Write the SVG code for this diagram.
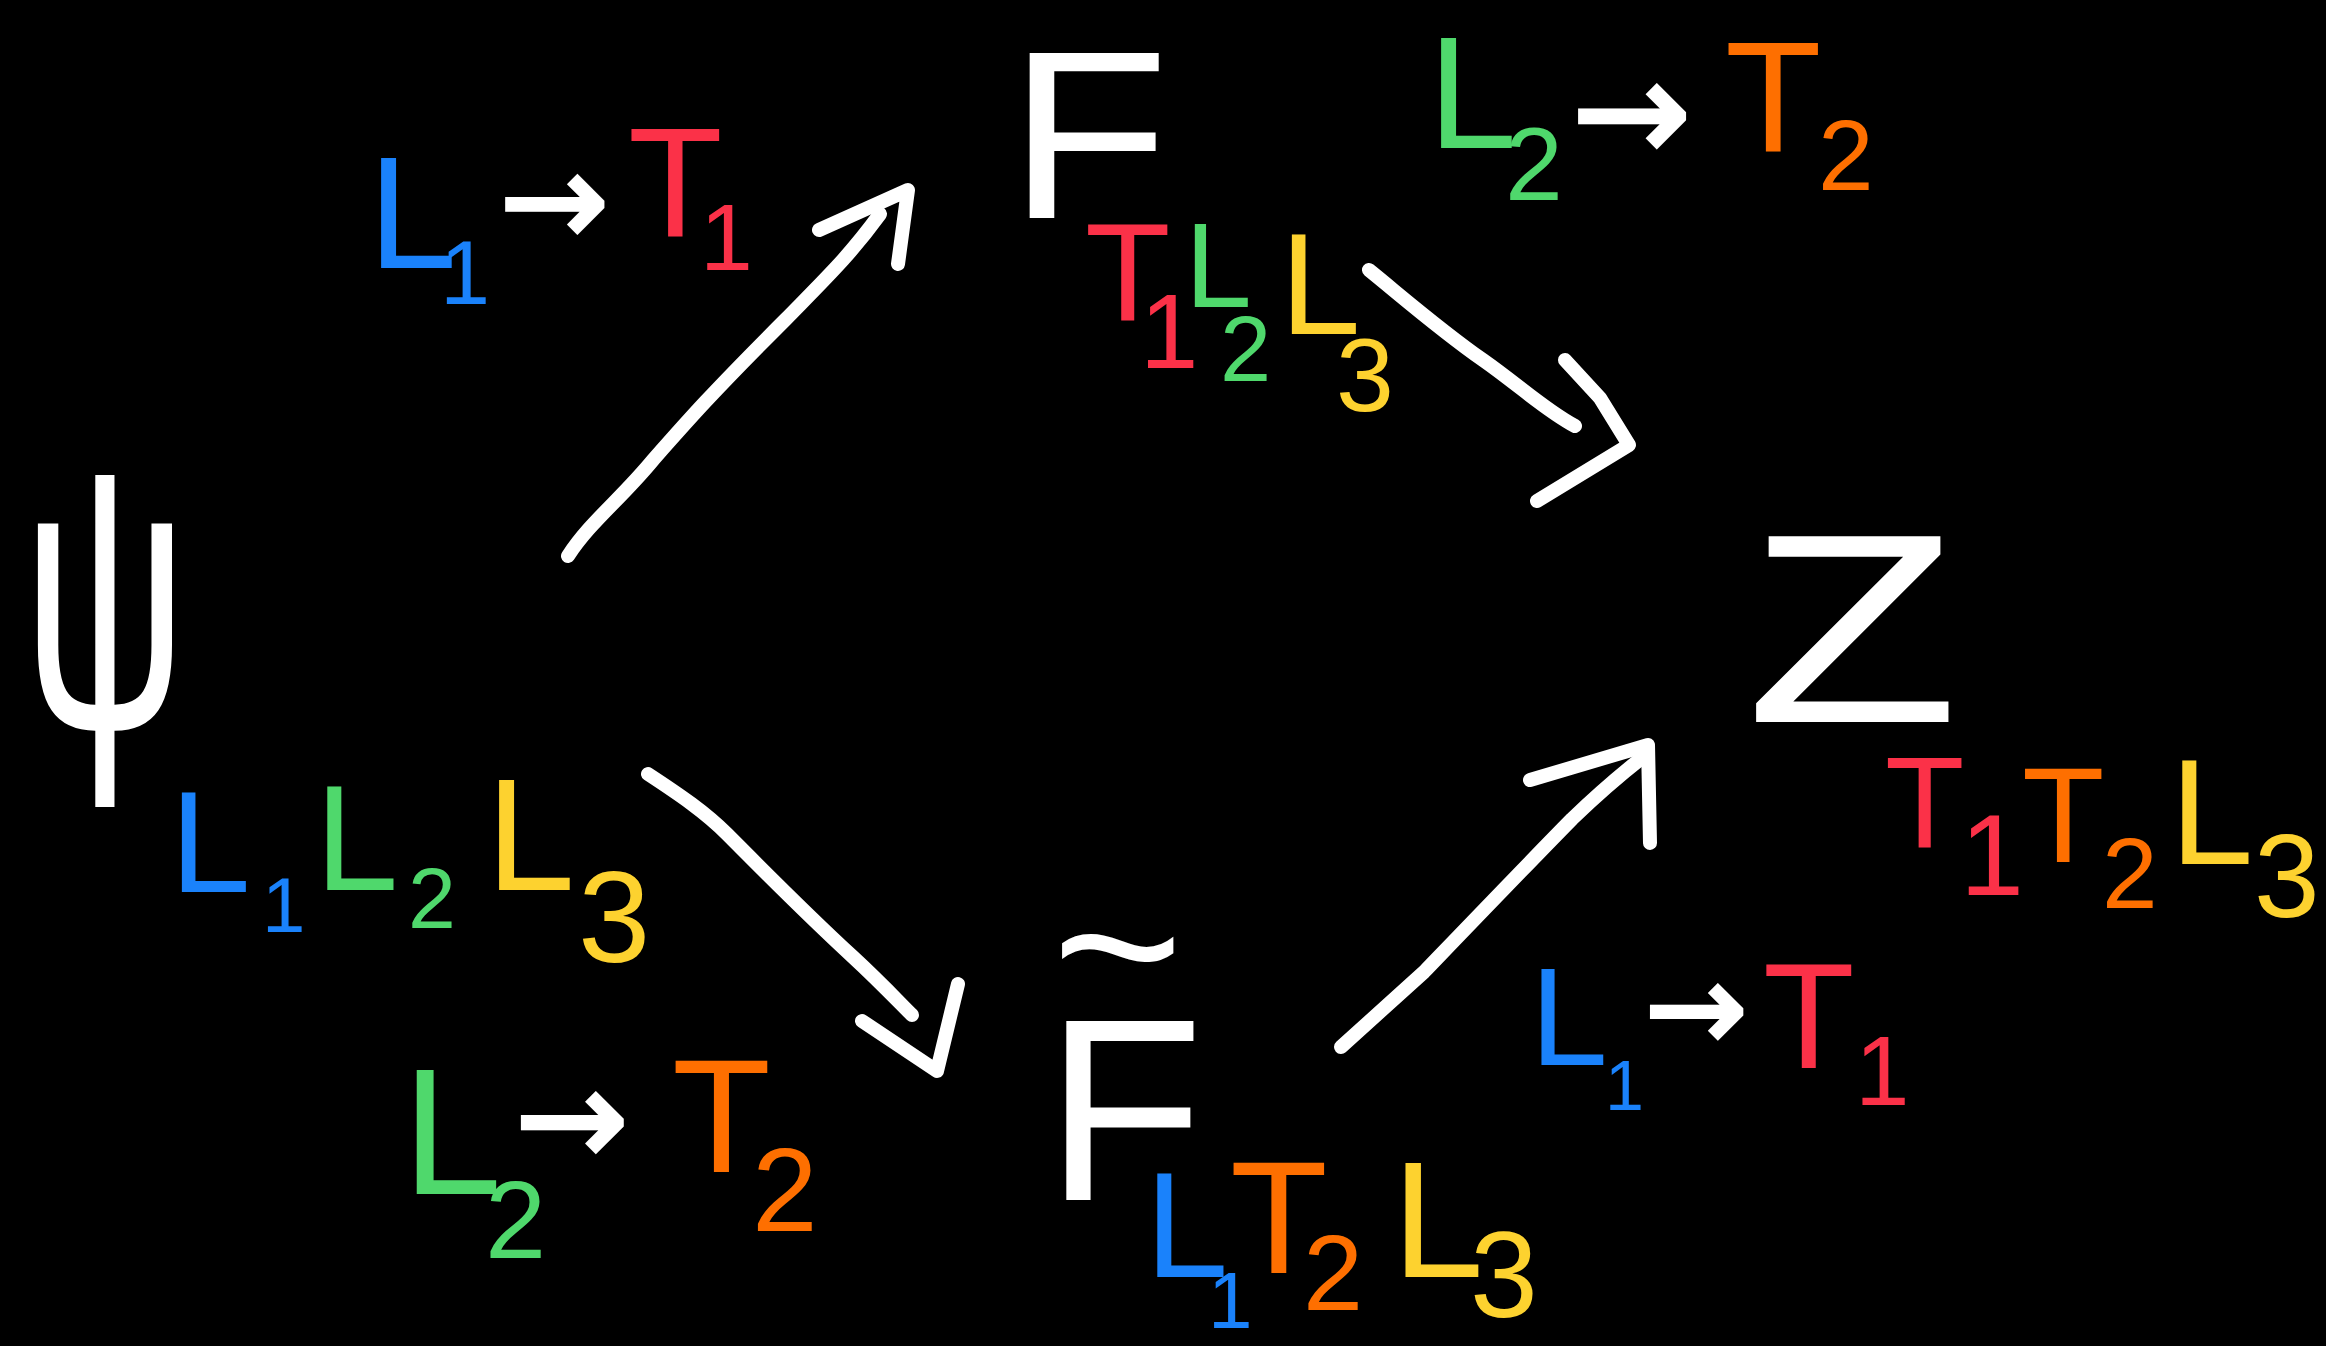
<svg xmlns="http://www.w3.org/2000/svg" width="2326" height="1346" viewBox="0 0 2326 1346">
<style>
text{font-family:"Liberation Sans","DejaVu Sans",sans-serif;}
.w{fill:#ffffff}
.b{fill:#1a82fb}
.g{fill:#4fd86c}
.y{fill:#fdd22f}
.r{fill:#fb3148}
.o{fill:#fe6f00}
.arr{font-family:"DejaVu Sans",sans-serif;fill:#fff;stroke:#fff;stroke-width:4}
.c{fill:none;stroke:#fff;stroke-width:14;stroke-linecap:round;stroke-linejoin:round}
</style>
<rect width="2326" height="1346" fill="#000"/>

<g id="psi">
<text class="w" x="0" y="0" font-size="385" text-anchor="middle" transform="translate(105,727) scale(0.6,1)">ψ</text>
<text font-size="145"><tspan class="b" x="170" y="892">L</tspan><tspan class="b" x="262" y="932" font-size="78">1</tspan><tspan class="g" x="315" y="890" font-size="150">L</tspan><tspan class="g" x="408" y="928" font-size="86">2</tspan><tspan class="y" x="486" y="890" font-size="160">L</tspan><tspan class="y" x="578" y="962" font-size="130">3</tspan></text>
</g>

<g id="F">
<text class="w" x="0" y="0" font-size="240" transform="translate(1008,218) scale(1.1,1)">F</text>
<text font-size="140"><tspan class="r" x="1085" y="320">T</tspan><tspan class="r" x="1140" y="368" font-size="105">1</tspan><tspan class="g" x="1185" y="307" font-size="120">L</tspan><tspan class="g" x="1220" y="381" font-size="92">2</tspan><tspan class="y" x="1280" y="334" font-size="145">L</tspan><tspan class="y" x="1336" y="411" font-size="104">3</tspan></text>
</g>

<g id="Z">
<text class="w" x="0" y="0" font-size="270" transform="translate(1745,722) scale(1.3,1)">Z</text>
<text font-size="130"><tspan class="r" x="1885" y="848">T</tspan><tspan class="r" x="1960" y="895" font-size="115">1</tspan><tspan class="o" x="2022" y="862" font-size="135">T</tspan><tspan class="o" x="2102" y="908" font-size="100">2</tspan><tspan class="y" x="2170" y="864" font-size="150">L</tspan><tspan class="y" x="2254" y="917" font-size="118">3</tspan></text>
</g>

<g id="Ftilde">
<text class="w" x="1045" y="1200" font-size="260">F<tspan x="1052" y="1023" font-size="225">~</tspan></text>
<text font-size="150"><tspan class="b" x="1145" y="1277">L</tspan><tspan class="b" x="1208" y="1328" font-size="80">1</tspan><tspan class="o" x="1230" y="1273" font-size="160">T</tspan><tspan class="o" x="1303" y="1310" font-size="108">2</tspan><tspan class="y" x="1392" y="1277" font-size="165">L</tspan><tspan class="y" x="1470" y="1317" font-size="122">3</tspan></text>
</g>

<g id="label-psi-F">
<text font-size="160"><tspan class="b" x="368" y="268">L</tspan><tspan class="b" x="440" y="304" font-size="90">1</tspan><tspan class="arr" x="500" y="245" font-size="130">→</tspan><tspan class="r" x="628" y="237" font-size="155">T</tspan><tspan class="r" x="700" y="270" font-size="95">1</tspan></text>
</g>

<g id="label-F-Z">
<text font-size="160"><tspan class="g" x="1428" y="148">L</tspan><tspan class="g" x="1505" y="200" font-size="104">2</tspan><tspan class="arr" x="1572" y="161" font-size="142">→</tspan><tspan class="o" x="1725" y="152" font-size="158">T</tspan><tspan class="o" x="1818" y="190" font-size="100">2</tspan></text>
</g>

<g id="label-psi-Ftilde">
<text font-size="180"><tspan class="g" x="402" y="1194">L</tspan><tspan class="g" x="485" y="1258" font-size="110">2</tspan><tspan class="arr" x="515" y="1165" font-size="135">→</tspan><tspan class="o" x="672" y="1172" font-size="162">T</tspan><tspan class="o" x="752" y="1231" font-size="118">2</tspan></text>
</g>

<g id="label-Ftilde-Z">
<text font-size="140"><tspan class="b" x="1530" y="1065">L</tspan><tspan class="b" x="1605" y="1110" font-size="70">1</tspan><tspan class="arr" x="1645" y="1050" font-size="122">→</tspan><tspan class="r" x="1763" y="1068" font-size="150">T</tspan><tspan class="r" x="1855" y="1105" font-size="98">1</tspan></text>
</g>

<g id="connectors">
<path class="c" d="M568,556 C590,522 620,500 653,460 C690,418 712,393 786,319 C830,274 850,255 880,214"/>
<polyline class="c" points="819,230 908,190 898,264"/>
<path class="c" d="M1369,270 C1400,295 1440,330 1483,360 C1520,386 1545,410 1575,426"/>
<polyline class="c" points="1565,360 1600,398 1629,445 1537,501"/>
<path class="c" d="M648,774 C680,795 705,812 727,834 C760,867 800,908 853,957 C880,982 895,998 912,1015"/>
<polyline class="c" points="862,1021 937,1071 958,984"/>
<path class="c" d="M1341,1047 C1380,1012 1410,985 1424,972 C1450,945 1520,872 1572,819 C1600,792 1620,775 1643,757"/>
<polyline class="c" points="1530,780 1648,745 1650,843"/>
</g>
</svg>
